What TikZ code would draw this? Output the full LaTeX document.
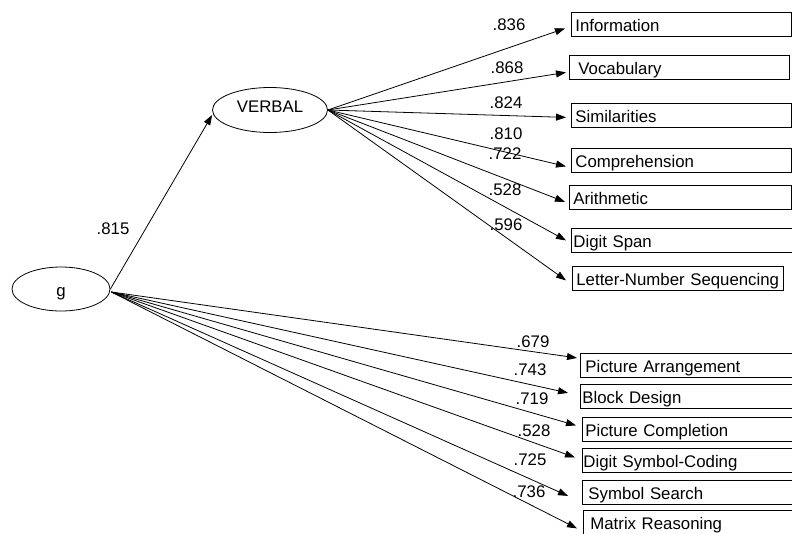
\documentclass[tikz,border=0pt]{standalone}
\usepackage{fontspec}
\setmainfont{Liberation Sans}
\usetikzlibrary{arrows.meta,positioning,shapes.geometric}

\begin{document}
\begin{tikzpicture}[
    x=1pt, y=-1pt,
    line width=0.8pt,
    font=\fontsize{16.8}{19}\selectfont,
    latent/.style={
        draw, ellipse, inner sep=0pt,
        minimum width=98pt, minimum height=44pt
    },
    indicator/.style={
        draw, anchor=north west, align=left,
        inner xsep=4pt, inner ysep=0pt,
        minimum height=24pt, text width=212pt,
        text height=14pt, text depth=0pt
    },
    arrow/.style={
        -{Triangle[length=10pt,width=7pt]}
    },
    loading/.style={
        inner sep=0pt, text height=12pt, text depth=0pt
    }
]
\path[use as bounding box, fill=white] (0,0) rectangle (792,533);

% --- latent factors ---
\node[latent, text height=14pt, text depth=0pt] (g) at (61,289) {g};
\node[latent, minimum width=115pt, minimum height=45pt,
      text height=12pt, text depth=8pt] (verbal) at (270,110) {VERBAL};

% --- verbal indicators ---
\node[indicator] (info)  at (571,12)  {Information};
\node[indicator, inner xsep=9pt, text width=202pt] (voc) at (569,55) {Vocabulary};
\node[indicator] (sim)   at (571,103) {Similarities};
\node[indicator] (comp)  at (571,148) {Comprehension};
\node[indicator, text width=214pt] (arith) at (569,185) {Arithmetic};
\node[indicator, inner xsep=2pt, text width=240pt] (dspan) at (571,228) {Digit Span};
\node[indicator, inner xsep=4pt, text width=203pt] (lns) at (572,266) {Letter-Number\ Sequencing};

% --- remaining indicators of g (run off the right edge) ---
\node[indicator, inner xsep=5pt, text width=230pt] (pa)  at (580,353) {Picture Arrangement};
\node[indicator, inner xsep=2pt, text width=236pt] (bd)  at (580,384) {Block Design};
\node[indicator, inner xsep=3pt, text width=234pt] (pc)  at (582,417) {Picture Completion};
\node[indicator, inner xsep=1pt, text width=238pt] (dsc) at (582,448) {Digit Symbol-Coding};
\node[indicator, inner xsep=6pt, text width=230pt] (ss)  at (582,480) {Symbol Search};
\node[indicator, inner xsep=7pt, text width=230pt] (mr)  at (583,510) {Matrix Reasoning};

% --- g -> VERBAL ---
\draw[arrow] (g.east) -- ([shift={(0,5)}]verbal.west);
\node[loading] (l815) at (113,228) {.815};

% --- VERBAL -> verbal subtests ---
\draw[arrow] (verbal.east) -- ([shift={(-6,4)}]info.west);
\draw[arrow] (verbal.east) -- ([shift={(-3,5)}]voc.west);
\draw[arrow] (verbal.east) -- ([shift={(-5,2)}]sim.west);
\draw[arrow] (verbal.east) -- ([shift={(-5,6)}]comp.west);
\draw[arrow] (verbal.east) -- ([shift={(-4,4.5)}]arith.west);
\draw[arrow] (verbal.east) -- ([shift={(-5,0)}]dspan.west);
\draw[arrow] (verbal.east) -- ([shift={(-6,2)}]lns.west);

\node[loading] (l836) at (509,24)  {.836};
\node[loading] (l868) at (507,67)  {.868};
\node[loading] (l824) at (506,102) {.824};
\node[loading] (l810) at (506,133) {.810};
\node[loading] (l722) at (505,153) {.722};
\node[loading] (l528a) at (505,189) {.528};
\node[loading] (l596) at (506,224) {.596};

% --- g -> performance subtests ---
\draw[arrow] ([shift={(1,3)}]g.east) -- ([shift={(-3,-7.5)}]pa.west);
\draw[arrow] ([shift={(1,3)}]g.east) -- ([shift={(-12,-3.5)}]bd.west);
\draw[arrow] ([shift={(1,3)}]g.east) -- ([shift={(-6,-4)}]pc.west);
\draw[arrow] ([shift={(1,3)}]g.east) -- ([shift={(-7,-3)}]dsc.west);
\draw[arrow] ([shift={(1,3)}]g.east) -- ([shift={(-14,3.5)}]ss.west);
\draw[arrow] ([shift={(1,3)}]g.east) -- ([shift={(-6,6)}]mr.west);

\node[loading] (l679) at (533,341) {.679};
\node[loading] (l743) at (530,369) {.743};
\node[loading] (l719) at (532,398) {.719};
\node[loading] (l528b) at (534,430) {.528};
\node[loading] (l725) at (530,459) {.725};
\node[loading] (l736) at (529,491) {.736};

\end{tikzpicture}
\end{document}
